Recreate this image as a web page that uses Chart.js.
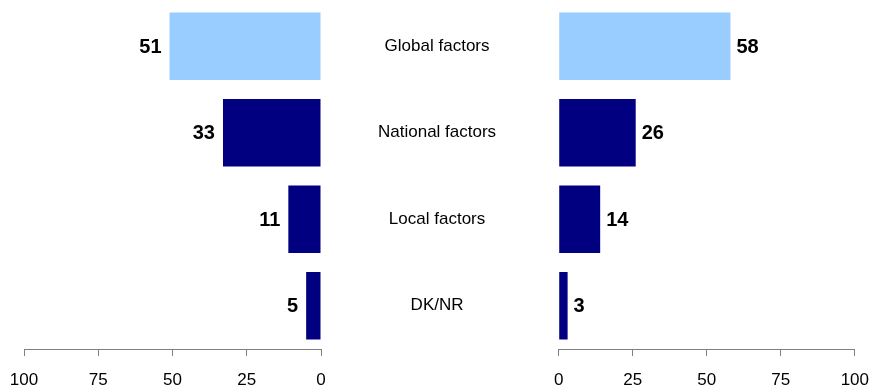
<!DOCTYPE html>
<html>
<head>
<meta charset="utf-8">
<script src="https://cdn.jsdelivr.net/npm/chart.js@4/dist/chart.umd.min.js"></script>
<style>
  html, body { margin: 0; padding: 0; background: #fff; overflow: hidden; }
  #wrap { position: relative; width: 873px; height: 392px; overflow: hidden; }
  #leftBox { position: absolute; left: 0; top: 0; width: 558px; height: 392px; }
  #rightBox { position: absolute; left: 540px; top: 0; width: 343px; height: 392px; }
</style>
</head>
<body>
<div id="wrap">
  <div id="leftBox"><canvas id="leftChart"></canvas></div>
  <div id="rightBox"><canvas id="rightChart"></canvas></div>
</div>
<script>
//data
const categories = ["Global factors", "National factors", "Local factors", "DK/NR"];
const leftValues = [51, 33, 11, 5];
const rightValues = [58, 26, 14, 3];
const barColors = ["#99CCFF", "#000080", "#000080", "#000080"];
const tickValues = [0, 25, 50, 75, 100];

const FONT = "'Liberation Sans', Arial, sans-serif";
const AXIS_GREY = "#808080";

// writes the value next to the end of each bar
const valueLabels = {
  id: "valueLabels",
  afterDatasetsDraw(chart, args, opts) {
    const ctx = chart.ctx;
    const meta = chart.getDatasetMeta(0);
    ctx.save();
    ctx.font = "bold 20px " + FONT;
    ctx.fillStyle = "#000";
    ctx.textBaseline = "middle";
    meta.data.forEach((bar, i) => {
      const v = chart.data.datasets[0].data[i];
      if (opts.side === "left") {
        ctx.textAlign = "right";
        ctx.fillText(String(v), bar.x - 8, bar.y + 1);
      } else {
        ctx.textAlign = "left";
        ctx.fillText(String(v), bar.x + 6, bar.y + 1);
      }
    });
    ctx.restore();
  }
};

function xScale(reverse) {
  return {
    type: "linear",
    min: 0,
    max: 100,
    reverse: reverse,
    afterBuildTicks: (axis) => {
      axis.ticks = tickValues.map((v) => ({ value: v }));
    },
    afterFit: (axis) => {
      axis.height = 43;
    },
    border: { display: true, color: AXIS_GREY, width: 1 },
    grid: {
      display: true,
      drawOnChartArea: false,
      drawTicks: true,
      tickLength: 7,
      color: AXIS_GREY,
    },
    ticks: {
      color: "#000",
      font: { family: FONT, size: 17 },
      padding: 14,
      maxRotation: 0,
    },
  };
}

function makeConfig(values, side) {
  const isLeft = side === "left";
  return {
    type: "bar",
    data: {
      labels: categories,
      datasets: [
        {
          data: values,
          backgroundColor: barColors,
          borderWidth: 0,
          barPercentage: 0.78,
          categoryPercentage: 1,
        },
      ],
    },
    options: {
      indexAxis: "y",
      responsive: true,
      maintainAspectRatio: false,
      animation: false,
      layout: {
        padding: isLeft
          ? { left: 24, right: 0, top: 3, bottom: 0 }
          : { left: 18, right: 4, top: 3, bottom: 0 },
      },
      plugins: {
        legend: { display: false },
        tooltip: { enabled: false },
        valueLabels: { side: side },
      },
      scales: {
        x: xScale(isLeft),
        y: isLeft
          ? {
              position: "right",
              border: { display: false },
              grid: { display: false },
              ticks: {
                color: "#000",
                font: { family: FONT, size: 17 },
                crossAlign: "center",
                padding: 49,
              },
              afterFit: (axis) => {
                axis.width = 237;
                axis.paddingTop = 0;
                axis.paddingBottom = 0;
              },
            }
          : { display: false },
      },
    },
    plugins: [valueLabels],
  };
}

const leftChart = new Chart(document.getElementById("leftChart"), makeConfig(leftValues, "left"));
const rightChart = new Chart(document.getElementById("rightChart"), makeConfig(rightValues, "right"));
</script>
</body>
</html>
